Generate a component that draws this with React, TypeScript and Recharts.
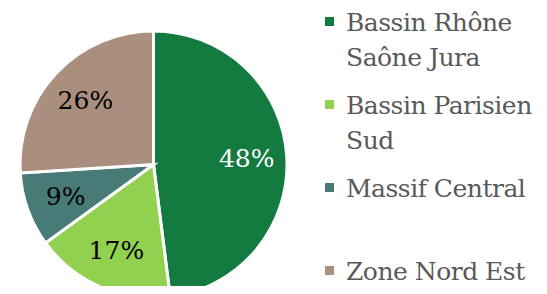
import { PieChart, Pie, Cell, Legend } from 'recharts'

const regions = ['Bassin Rhône Saône Jura', 'Bassin Parisien Sud', 'Massif Central', 'Zone Nord Est']
const shares = [48, 17, 9, 26]
const colors = ['#137B3F', '#92D050', '#487A77', '#AB8F7E']
const labelColors = ['#FFFFFF', '#000000', '#000000', '#000000']

const data = regions.map((name, i) => ({ name, value: shares[i] }))

const FONT = '"DejaVu Serif", "Liberation Serif", serif'
const RAD = Math.PI / 180

const renderLabel = (props: any) => {
  const { cx, cy, midAngle, outerRadius, index, value } = props
  const r = outerRadius * 0.7
  const x = cx + r * Math.cos(-midAngle * RAD)
  const y = cy + r * Math.sin(-midAngle * RAD)
  return (
    <text
      x={x}
      y={y}
      fill={labelColors[index]}
      textAnchor="middle"
      dominantBaseline="central"
      style={{ fontFamily: FONT, fontSize: 25 }}
    >
      {`${value}%`}
    </text>
  )
}

const renderLegend = () => (
  <div style={{ fontFamily: FONT, fontSize: 25, letterSpacing: -0.5, color: '#595959' }}>
    {regions.map((name, i) => (
      <div key={name} style={{ display: 'flex', alignItems: 'flex-start', height: 83 }}>
        <div style={{ width: 9, height: 9, background: colors[i], marginTop: 13, marginRight: 12, flexShrink: 0 }} />
        <div style={{ width: 205, lineHeight: '35px', marginTop: 1 }}>{name}</div>
      </div>
    ))}
  </div>
)

export default function App() {
  return (
    <div style={{ margin: -8 }}>
      <PieChart width={547} height={294} margin={{ top: 0, right: 0, bottom: 0, left: 0 }}>
        <Pie
          data={data}
          dataKey="value"
          nameKey="name"
          cx={153.5}
          cy={164.5}
          outerRadius={133.5}
          startAngle={90}
          endAngle={-270}
          stroke="#FFFFFF"
          strokeWidth={3}
          label={renderLabel}
          labelLine={false}
          isAnimationActive={false}
        >
          {data.map((d, i) => (
            <Cell key={d.name} fill={colors[i]} />
          ))}
        </Pie>
        <Legend
          content={renderLegend}
          wrapperStyle={{ position: 'absolute', left: 325, top: 4, width: 222 }}
        />
      </PieChart>
    </div>
  )
}
